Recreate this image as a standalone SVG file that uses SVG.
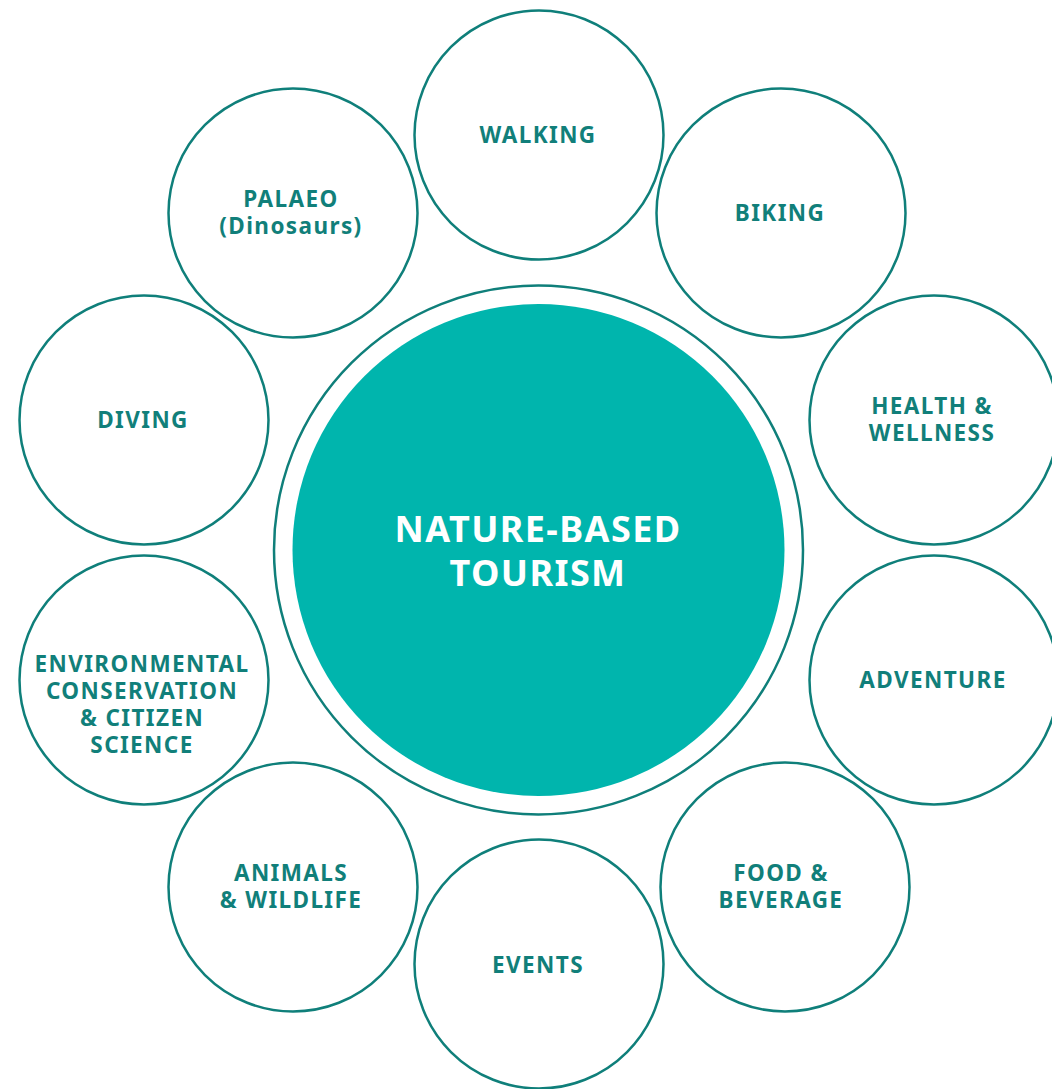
<svg xmlns="http://www.w3.org/2000/svg" width="1052" height="1089" viewBox="0 0 1052 1089">
<style>
.ring{fill:#fff;stroke:#0f7f7a;stroke-width:2.5}
.lbl{font-family:"Noto Sans","Open Sans",sans-serif;font-weight:700;font-size:22.5px;letter-spacing:1.4px;fill:#117f7a;text-anchor:middle}
.ctr{font-family:"Noto Sans","Open Sans",sans-serif;font-weight:700;font-size:36px;letter-spacing:1.4px;fill:#fff;text-anchor:middle}
</style>
<rect width="1052" height="1089" fill="#fff"/>
<g id="center">
<circle cx="538.5" cy="550" r="264.5" fill="#fff" stroke="#0f7f7a" stroke-width="2.5"/>
<circle cx="538.5" cy="550" r="246" fill="#00b5ad"/>
<text class="ctr" x="538" y="542">NATURE-BASED</text>
<text class="ctr" x="538" y="586">TOURISM</text>
</g>
<g id="walking"><circle class="ring" cx="539" cy="135" r="124.5"/><text class="lbl" x="538" y="143">WALKING</text></g>
<g id="biking"><circle class="ring" cx="781" cy="213" r="124.5"/><text class="lbl" x="780" y="221">BIKING</text></g>
<g id="health"><circle class="ring" cx="934" cy="420" r="124.5"/><text class="lbl" x="932" y="414">HEALTH &amp;</text><text class="lbl" x="932" y="441">WELLNESS</text></g>
<g id="adventure"><circle class="ring" cx="934" cy="680" r="124.5"/><text class="lbl" x="933" y="688">ADVENTURE</text></g>
<g id="food"><circle class="ring" cx="785" cy="887" r="124.5"/><text class="lbl" x="781" y="881">FOOD &amp;</text><text class="lbl" x="781" y="908">BEVERAGE</text></g>
<g id="events"><circle class="ring" cx="539" cy="964" r="124.5"/><text class="lbl" x="538" y="973">EVENTS</text></g>
<g id="animals"><circle class="ring" cx="293" cy="887" r="124.5"/><text class="lbl" x="291" y="881">ANIMALS</text><text class="lbl" x="291" y="908">&amp; WILDLIFE</text></g>
<g id="environment"><circle class="ring" cx="144" cy="680" r="124.5"/><text class="lbl" x="142" y="672">ENVIRONMENTAL</text><text class="lbl" x="142" y="699">CONSERVATION</text><text class="lbl" x="142" y="726">&amp; CITIZEN</text><text class="lbl" x="142" y="753">SCIENCE</text></g>
<g id="diving"><circle class="ring" cx="144" cy="420" r="124.5"/><text class="lbl" x="143" y="428">DIVING</text></g>
<g id="palaeo"><circle class="ring" cx="293" cy="213" r="124.5"/><text class="lbl" x="291" y="207">PALAEO</text><text class="lbl" x="291" y="234">(Dinosaurs)</text></g>
<g id="connectors"></g>
</svg>
